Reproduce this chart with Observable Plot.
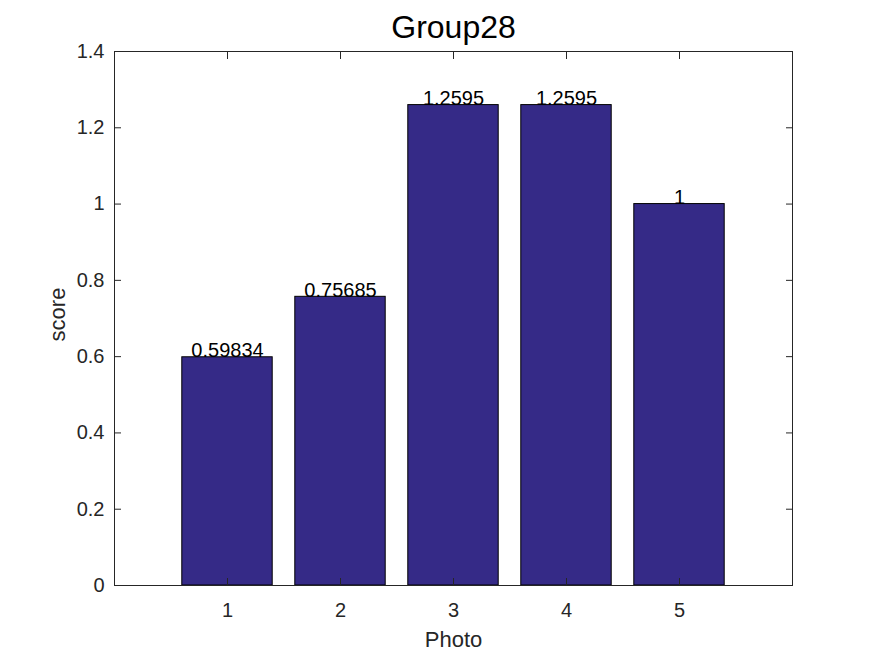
<!DOCTYPE html>
<html><head><meta charset="utf-8">
<script src="https://cdn.jsdelivr.net/npm/d3@7"></script>
<script src="https://cdn.jsdelivr.net/npm/@observablehq/plot@0.6"></script>
<style>body{margin:0;background:#fff} svg{display:block}</style>
</head><body><div id="chart"></div>
<script>
const photos = [1, 2, 3, 4, 5];
const scores = [0.59834, 0.75685, 1.2595, 1.2595, 1];
const xTicks = [1, 2, 3, 4, 5];
const yTicks = [0, 0.2, 0.4, 0.6, 0.8, 1, 1.2, 1.4];
const titleText = "Group28";
const xLabel = "Photo";
const yLabel = "score";

const data = photos.map((p, i) => ({photo: p, score: scores[i]}));
const barWidth = 0.8;
const fmt = d3.format(".5~g");
const font = "'Liberation Sans', Arial, Helvetica, sans-serif";
const axisColor = "#262626";

const chart = Plot.plot({
  width: 875, height: 656,
  marginLeft: 114, marginRight: 83, marginTop: 51, marginBottom: 71,
  style: {fontFamily: font, background: "#fff", color: axisColor},
  x: {domain: [0, 6]},
  y: {domain: [0, 1.4]},
  marks: [
    Plot.rectY(data, {x1: d => d.photo - barWidth / 2, x2: d => d.photo + barWidth / 2, y1: 0, y2: "score", fill: "#352a87", stroke: "#000", strokeWidth: 1}),
    Plot.frame({stroke: axisColor, strokeWidth: 1}),
    Plot.axisX(xTicks, {anchor: "bottom", tickSize: -7, tickPadding: 24, fontSize: 20, label: null, tickFormat: d => String(d), stroke: axisColor, fill: axisColor}),
    Plot.axisX(xTicks, {anchor: "top", tickSize: -7, label: null, tickFormat: () => "", stroke: axisColor}),
    Plot.axisY(yTicks, {anchor: "left", tickSize: -7, tickPadding: 17, fontSize: 20, label: null, tickFormat: d => String(d), stroke: axisColor, fill: axisColor}),
    Plot.axisY(yTicks, {anchor: "right", tickSize: -7, label: null, tickFormat: () => "", stroke: axisColor}),
    Plot.text(data, {x: "photo", y: "score", text: d => fmt(d.score), lineAnchor: "bottom", textAnchor: "middle", fontSize: 20, fill: "#000"}),
    Plot.text([titleText], {text: d => d, frameAnchor: "top", lineAnchor: "bottom", textAnchor: "middle", dy: -14, fontSize: 32, fill: "#000"}),
    Plot.text([xLabel], {text: d => d, frameAnchor: "bottom", lineAnchor: "bottom", textAnchor: "middle", dy: 61, fontSize: 22, fill: axisColor}),
    Plot.text([yLabel], {text: d => d, frameAnchor: "left", lineAnchor: "bottom", textAnchor: "middle", rotate: -90, dx: -50, dy: -4, fontSize: 22, fill: axisColor})
  ]
});
document.getElementById("chart").appendChild(chart);
</script>
</body></html>
